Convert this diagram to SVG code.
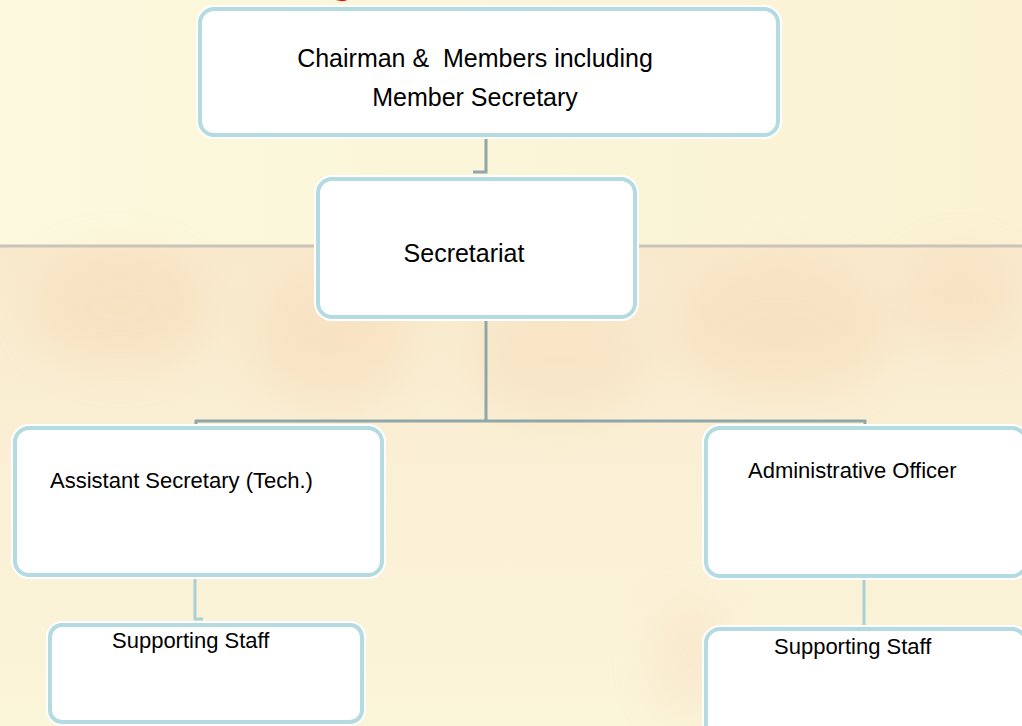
<svg xmlns="http://www.w3.org/2000/svg" width="1022" height="726" viewBox="0 0 1022 726">
  <defs>
    <linearGradient id="lower" x1="0" y1="0" x2="0" y2="1">
      <stop offset="0" stop-color="#f9e9cc"/>
      <stop offset="0.4" stop-color="#faefd4"/>
      <stop offset="1" stop-color="#fbf5da"/>
    </linearGradient>
    <linearGradient id="upper" x1="0" y1="0" x2="1" y2="0">
      <stop offset="0" stop-color="#fcf9de"/>
      <stop offset="1" stop-color="#faf2d3"/>
    </linearGradient>
    <filter id="blur" x="-50%" y="-50%" width="200%" height="200%">
      <feGaussianBlur stdDeviation="22"/>
    </filter>
    <style>
      .halo { fill: none; stroke: #ffffff; stroke-width: 8; }
      .box { fill: #ffffff; stroke: #b3dbe0; stroke-width: 4; }
      .lbl { font-family: "Liberation Sans", Arial, sans-serif; fill: #000000; }
      .big { font-size: 25px; }
      .small { font-size: 22px; }
      .conn-dark { fill: none; stroke: #8ea8aa; stroke-width: 3; }
      .conn-light { fill: none; stroke: #a9d0d5; stroke-width: 3; }
    </style>
  </defs>

  <!-- background -->
  <g id="background">
    <rect x="0" y="0" width="1022" height="726" fill="url(#upper)"/>
    <rect x="0" y="246" width="1022" height="480" fill="url(#lower)"/>
    <g filter="url(#blur)" opacity="0.18">
      <ellipse cx="120" cy="310" rx="90" ry="60" fill="#f0c090"/>
      <ellipse cx="330" cy="340" rx="80" ry="70" fill="#f0c090"/>
      <ellipse cx="560" cy="360" rx="90" ry="60" fill="#f0c49a"/>
      <ellipse cx="780" cy="330" rx="110" ry="70" fill="#f0c090"/>
      <ellipse cx="960" cy="300" rx="60" ry="50" fill="#f0c49a"/>
      <ellipse cx="690" cy="660" rx="40" ry="60" fill="#f2c0a0"/>
    </g>
    <line x1="0" y1="246" x2="1022" y2="246" stroke="#c9c3bb" stroke-width="3"/>
    <text x="330" y="-7" font-family="Liberation Sans, Arial, sans-serif" font-size="40" font-weight="bold" fill="#ff0000">g</text>
  </g>

  <!-- connectors -->
  <g id="connectors">
    <path class="conn-dark" d="M486,137 V172 H473"/>
    <path class="conn-dark" d="M486,319 V421"/>
    <path class="conn-dark" d="M195,421 H866"/>
    <path class="conn-dark" d="M196,420 V428"/>
    <path class="conn-dark" d="M865,420 V428"/>
    <path class="conn-light" d="M195,577 V619 H203"/>
    <path class="conn-light" d="M864,578 V629"/>
  </g>

  <g id="node-chairman">
    <rect class="halo" x="200" y="9" width="578" height="126" rx="14"/>
    <rect class="box" x="200" y="9" width="578" height="126" rx="14"/>
    <text class="lbl big" x="475" y="67" text-anchor="middle" xml:space="preserve">Chairman &amp;  Members including</text>
    <text class="lbl big" x="475" y="106" text-anchor="middle">Member Secretary</text>
  </g>

  <g id="node-secretariat">
    <rect class="halo" x="318" y="179" width="317" height="138" rx="14"/>
    <rect class="box" x="318" y="179" width="317" height="138" rx="14"/>
    <text class="lbl big" x="464" y="262" text-anchor="middle">Secretariat</text>
  </g>

  <g id="node-asst-secretary">
    <rect class="halo" x="15" y="428" width="367" height="147" rx="14"/>
    <rect class="box" x="15" y="428" width="367" height="147" rx="14"/>
    <text class="lbl small" x="50" y="488">Assistant Secretary (Tech.)</text>
  </g>

  <g id="node-staff-left">
    <rect class="halo" x="50" y="625" width="312" height="97" rx="12"/>
    <rect class="box" x="50" y="625" width="312" height="97" rx="12"/>
    <text class="lbl small" x="112" y="648">Supporting Staff</text>
  </g>

  <g id="node-admin-officer">
    <rect class="halo" x="706" y="428" width="320" height="148" rx="14"/>
    <rect class="box" x="706" y="428" width="320" height="148" rx="14"/>
    <text class="lbl small" x="748" y="478">Administrative Officer</text>
  </g>

  <g id="node-staff-right">
    <rect class="halo" x="706" y="629" width="320" height="120" rx="14"/>
    <rect class="box" x="706" y="629" width="320" height="120" rx="14"/>
    <text class="lbl small" x="774" y="654">Supporting Staff</text>
  </g>
</svg>
